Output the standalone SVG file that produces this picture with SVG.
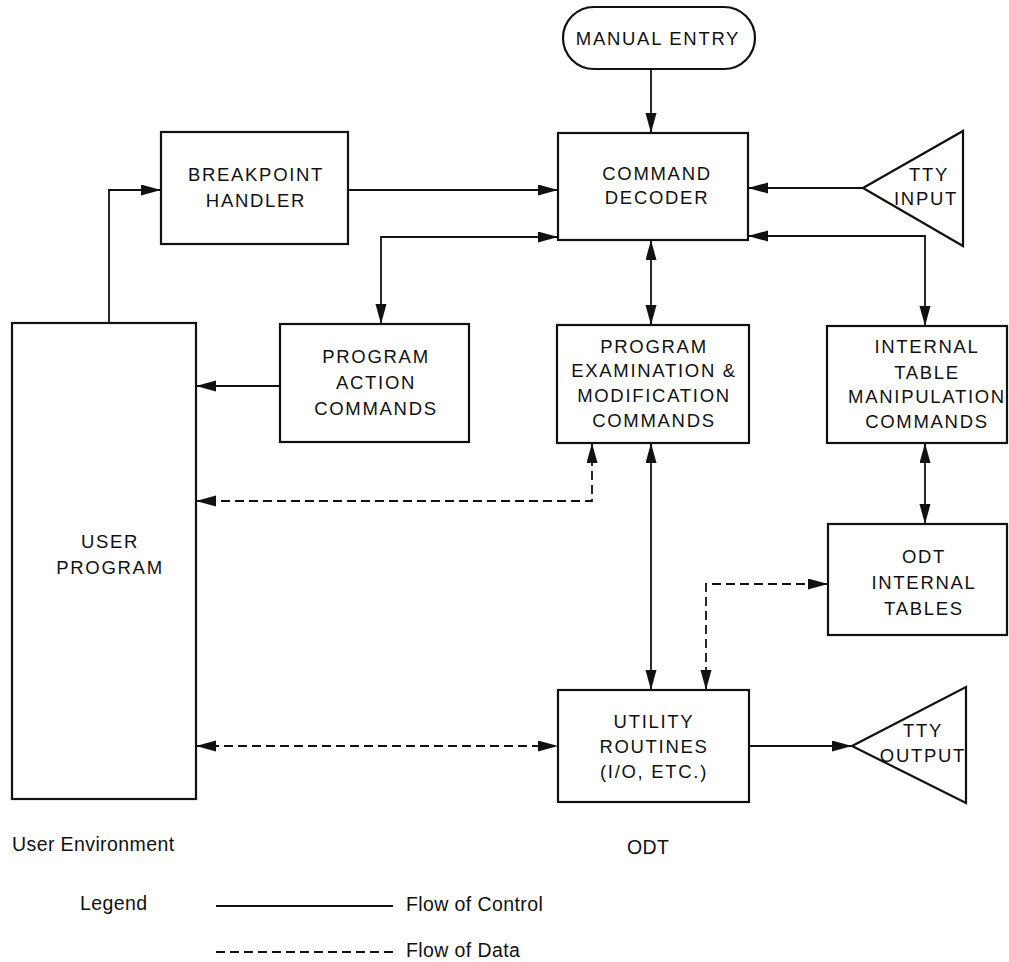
<svg xmlns="http://www.w3.org/2000/svg" width="1009" height="962" viewBox="0 0 1009 962">
<style>
.box{fill:#fff;stroke:#111;stroke-width:2.2}
.lbl{font-family:"Liberation Sans",Arial,sans-serif;font-size:18.5px;letter-spacing:1.7px;fill:#111;text-anchor:middle}
.cap{font-family:"Liberation Sans",Arial,sans-serif;font-size:19.5px;letter-spacing:0.4px;fill:#111}
.ctl{fill:none;stroke:#111;stroke-width:1.8}
.dat{fill:none;stroke:#111;stroke-width:1.8;stroke-dasharray:9 5}
</style>
<defs>
<marker id="ah" markerUnits="userSpaceOnUse" markerWidth="21" markerHeight="12" refX="20" refY="5.5" orient="auto-start-reverse" viewBox="0 0 21 12">
<path d="M0,0 L20,5.5 L0,11 Z" fill="#111"/>
</marker>
</defs>
<rect width="1009" height="962" fill="#fff"/>

<g id="connectors">
<path class="ctl" d="M651,69 V133" marker-end="url(#ah)"/>
<path class="ctl" d="M109,323 V190 H161" marker-end="url(#ah)"/>
<path class="ctl" d="M348,190 H558" marker-end="url(#ah)"/>
<path class="ctl" d="M558,237 H381 V324" marker-start="url(#ah)" marker-end="url(#ah)"/>
<path class="ctl" d="M863,188 H748" marker-end="url(#ah)"/>
<path class="ctl" d="M748,236 H925 V326" marker-start="url(#ah)" marker-end="url(#ah)"/>
<path class="ctl" d="M651,240 V325" marker-start="url(#ah)" marker-end="url(#ah)"/>
<path class="ctl" d="M280,386 H196" marker-end="url(#ah)"/>
<path class="ctl" d="M651,443 V690" marker-start="url(#ah)" marker-end="url(#ah)"/>
<path class="ctl" d="M925,443 V524" marker-start="url(#ah)" marker-end="url(#ah)"/>
<path class="dat" d="M592,443 V501 H196" marker-start="url(#ah)" marker-end="url(#ah)"/>
<path class="dat" d="M706,690 V584 H828" marker-start="url(#ah)" marker-end="url(#ah)"/>
<path class="dat" d="M196,746 H558" marker-start="url(#ah)" marker-end="url(#ah)"/>
<path class="ctl" d="M749,746 H852" marker-end="url(#ah)"/>
</g>

<g id="manual-entry">
<rect class="box" x="563" y="7" width="192" height="62" rx="31" ry="31"/>
<text class="lbl" x="658" y="45">MANUAL ENTRY</text>
</g>
<g id="command-decoder">
<rect class="box" x="558" y="133" width="190" height="107"/>
<text class="lbl" x="657" y="180">COMMAND</text>
<text class="lbl" x="657" y="204">DECODER</text>
</g>
<g id="breakpoint-handler">
<rect class="box" x="161" y="132" width="187" height="112"/>
<text class="lbl" x="256" y="181">BREAKPOINT</text>
<text class="lbl" x="256" y="207">HANDLER</text>
</g>
<g id="tty-input">
<polygon class="box" points="863,188 963,131 963,246"/>
<text class="lbl" x="929" y="181">TTY</text>
<text class="lbl" x="926" y="205">INPUT</text>
</g>
<g id="user-program">
<rect class="box" x="12" y="323" width="184" height="476"/>
<text class="lbl" x="110" y="548">USER</text>
<text class="lbl" x="110" y="574">PROGRAM</text>
</g>
<g id="program-action-commands">
<rect class="box" x="280" y="324" width="189" height="118"/>
<text class="lbl" x="376" y="363">PROGRAM</text>
<text class="lbl" x="376" y="389">ACTION</text>
<text class="lbl" x="376" y="415">COMMANDS</text>
</g>
<g id="program-examination">
<rect class="box" x="557" y="325" width="192" height="118"/>
<text class="lbl" x="654" y="353">PROGRAM</text>
<text class="lbl" x="654" y="377">EXAMINATION &amp;</text>
<text class="lbl" x="654" y="402">MODIFICATION</text>
<text class="lbl" x="654" y="427">COMMANDS</text>
</g>
<g id="internal-table-manipulation">
<rect class="box" x="827" y="326" width="180" height="117"/>
<text class="lbl" x="927" y="353">INTERNAL</text>
<text class="lbl" x="927" y="379">TABLE</text>
<text class="lbl" x="927" y="403">MANIPULATION</text>
<text class="lbl" x="927" y="428">COMMANDS</text>
</g>
<g id="odt-internal-tables">
<rect class="box" x="828" y="524" width="179" height="111"/>
<text class="lbl" x="924" y="563">ODT</text>
<text class="lbl" x="924" y="589">INTERNAL</text>
<text class="lbl" x="924" y="615">TABLES</text>
</g>
<g id="utility-routines">
<rect class="box" x="558" y="690" width="191" height="112"/>
<text class="lbl" x="654" y="728">UTILITY</text>
<text class="lbl" x="654" y="753">ROUTINES</text>
<text class="lbl" x="654" y="778">(I/O, ETC.)</text>
</g>
<g id="tty-output">
<polygon class="box" points="852,746 966,687 966,803"/>
<text class="lbl" x="923" y="737">TTY</text>
<text class="lbl" x="923" y="762">OUTPUT</text>
</g>

<g id="captions">
<text class="cap" x="12" y="851">User Environment</text>
<text class="cap" x="627" y="854">ODT</text>
<text class="cap" x="80" y="910">Legend</text>
<line class="ctl" x1="216" y1="906" x2="393" y2="906"/>
<text class="cap" x="406" y="911">Flow of Control</text>
<line class="dat" x1="216" y1="952" x2="393" y2="952"/>
<text class="cap" x="406" y="957">Flow of Data</text>
</g>
</svg>
